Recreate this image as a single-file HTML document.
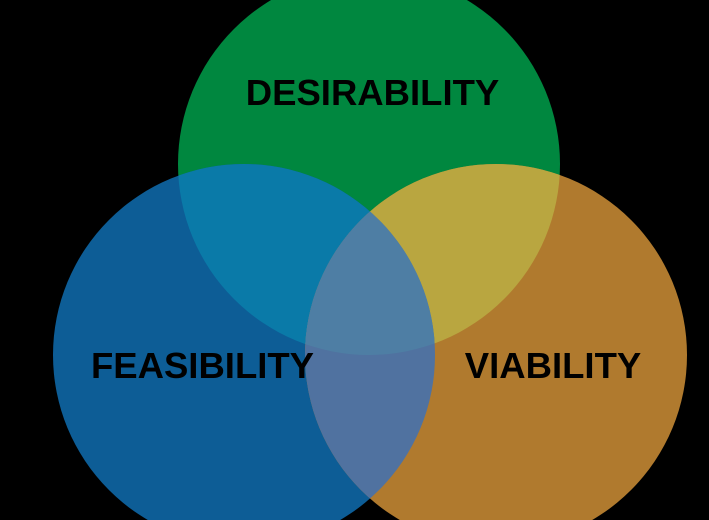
<!DOCTYPE html>
<html><head><style>html,body{margin:0;padding:0;background:#000;}svg{display:block}</style></head><body>
<svg width="709" height="520" viewBox="0 0 709 520" xmlns="http://www.w3.org/2000/svg">
<defs>
<clipPath id="g"><circle cx="369" cy="164" r="191"/></clipPath>
<clipPath id="b"><circle cx="244" cy="355" r="191"/></clipPath>
<clipPath id="o"><circle cx="496" cy="355" r="191"/></clipPath>
</defs>
<rect width="709" height="520" fill="#000"/>
<circle cx="369" cy="164" r="191" fill="#00873f"/>
<circle cx="244" cy="355" r="191" fill="#0d5d96"/>
<circle cx="496" cy="355" r="191" fill="#b07a2e"/>
<g clip-path="url(#g)"><circle cx="244" cy="355" r="191" fill="#0a7aa8"/><circle cx="496" cy="355" r="191" fill="#b9a640"/></g>
<g clip-path="url(#b)"><circle cx="496" cy="355" r="191" fill="#5072a0"/></g>
<g clip-path="url(#b)"><g clip-path="url(#o)"><circle cx="369" cy="164" r="191" fill="#4e7ea4"/></g></g>
<g font-family="Liberation Sans, sans-serif" font-weight="bold" font-size="36.5" fill="#000" text-anchor="middle">
<text x="372.5" y="105">DESIRABILITY</text>
<text x="202.5" y="378">FEASIBILITY</text>
<text x="553" y="378">VIABILITY</text>
</g>
</svg>
</body></html>
